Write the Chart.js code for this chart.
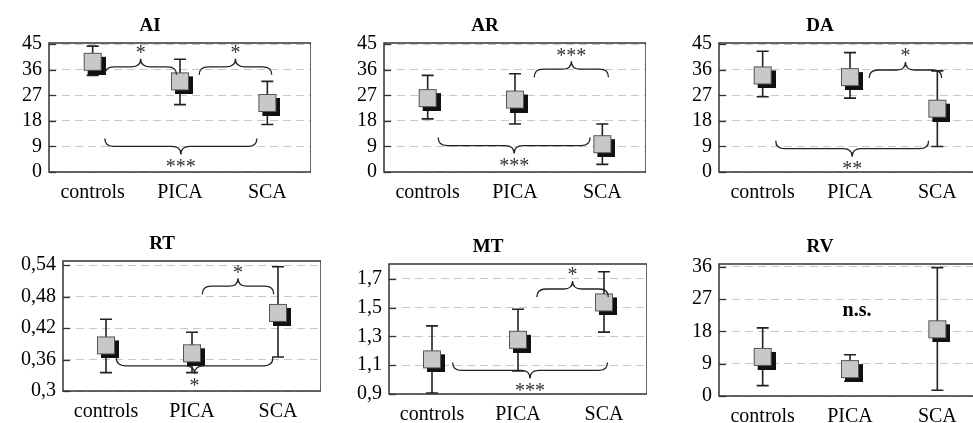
<!DOCTYPE html>
<html>
<head>
<meta charset="utf-8">
<script src="https://cdn.jsdelivr.net/npm/chart.js@4.4.0/dist/chart.umd.min.js"></script>
<style>
  html, body { margin: 0; padding: 0; background: #fff; overflow: hidden; }
  body { width: 973px; height: 423px; position: relative; }
  canvas { position: absolute; }
</style>
</head>
<body>
<script>
const groups = ['controls', 'PICA', 'SCA'];

// group means and whisker ends
const aiMean = [38.8, 31.9, 24.3];
const aiLow = [34.0, 23.7, 16.7];
const aiHigh = [44.3, 39.7, 31.9];

const arMean = [26.0, 25.5, 9.8];
const arLow = [18.7, 16.9, 2.7];
const arHigh = [34.0, 34.6, 16.9];

const daMean = [34.0, 33.4, 22.3];
const daLow = [26.5, 26.0, 9.0];
const daHigh = [42.5, 42.0, 35.6];

const rtMean = [0.387, 0.372, 0.449];
const rtLow = [0.335, 0.335, 0.365];
const rtHigh = [0.437, 0.412, 0.537];

const mtMean = [1.141, 1.277, 1.537];
const mtLow = [0.907, 1.06, 1.33];
const mtHigh = [1.374, 1.489, 1.75];

const rvMean = [10.9, 7.5, 18.6];
const rvLow = [2.9, 4.1, 1.6];
const rvHigh = [19.0, 11.5, 35.8];

// tick labels
const angleTicks = [0, 9, 18, 27, 36, 45];
const rtTicks = [0.3, 0.36, 0.42, 0.48, 0.54];
const mtTicks = [0.9, 1.1, 1.3, 1.5, 1.7];
const rvTicks = [0, 9, 18, 27, 36];

// significance braces: [from group, to group, value, cusp direction, label]
const aiBraces = [[0.14, 0.96, 37, 'up', '*'], [1.22, 2.05, 37, 'up', '*'], [0.14, 1.88, 9, 'down', '***']];
const arBraces = [[1.22, 2.07, 36.2, 'up', '***'], [0.12, 1.86, 9.3, 'down', '***']];
const daBraces = [[1.22, 2.05, 35.9, 'up', '*'], [0.15, 1.90, 8.2, 'down', '**']];
const rtBraces = [[1.12, 1.95, 0.5, 'up', '*'], [0.12, 1.94, 0.348, 'down', '*']];
const mtBraces = [[1.22, 2.05, 1.63, 'up', '*'], [0.24, 2.04, 1.064, 'down', '***']];
const rvNotes = [[1.08, 23.7, 'n.s.']];

const SERIF = "'Liberation Serif', 'Times New Roman', serif";
const AXIS_W = 60, TITLE_H = 26, XAXIS_H = 40;

const panels = [
  { title: 'AI', mean: aiMean, low: aiLow, high: aiHigh, ticks: angleTicks, min: 0, max: 45.4, braces: aiBraces, notes: [], box: [49, 43, 262, 129] },
  { title: 'AR', mean: arMean, low: arLow, high: arHigh, ticks: angleTicks, min: 0, max: 45.4, braces: arBraces, notes: [], box: [384, 43, 262, 129] },
  { title: 'DA', mean: daMean, low: daLow, high: daHigh, ticks: angleTicks, min: 0, max: 45.4, braces: daBraces, notes: [], box: [719, 43, 262, 129] },
  { title: 'RT', mean: rtMean, low: rtLow, high: rtHigh, ticks: rtTicks, min: 0.3, max: 0.548, braces: rtBraces, notes: [], box: [63, 261, 258, 130] },
  { title: 'MT', mean: mtMean, low: mtLow, high: mtHigh, ticks: mtTicks, min: 0.9, max: 1.804, braces: mtBraces, notes: [], box: [389, 264, 258, 130] },
  { title: 'RV', mean: rvMean, low: rvLow, high: rvHigh, ticks: rvTicks, min: 0, max: 36.8, braces: [], notes: rvNotes, box: [719, 264, 262, 132] }
];

// grey square marker with a hard black drop shadow, centred on the grey square
const marker = (() => {
  const side = 18, off = 4;
  const c = document.createElement('canvas');
  c.width = side + 2 * off;
  c.height = side + 2 * off;
  const g = c.getContext('2d');
  g.fillStyle = '#111';
  g.fillRect(2 * off, 2 * off, side, side);
  g.fillStyle = '#c8c8c8';
  g.fillRect(off, off, side, side);
  g.strokeStyle = '#555';
  g.lineWidth = 1;
  g.strokeRect(off + 0.5, off + 0.5, side - 1, side - 1);
  return c;
})();

function drawBrace(ctx, x1, x2, yl, dir, d) {
  // dir -1: cusp points up, ends bend down; +1: the opposite
  const xm = (x1 + x2) / 2;
  const r = Math.min(9, (x2 - x1) / 5);
  const ye = yl - dir * d, yc = yl + dir * d;
  ctx.beginPath();
  ctx.moveTo(x1, ye);
  ctx.quadraticCurveTo(x1, yl, x1 + r, yl);
  ctx.lineTo(xm - r, yl);
  ctx.quadraticCurveTo(xm, yl, xm, yc);
  ctx.quadraticCurveTo(xm, yl, xm + r, yl);
  ctx.lineTo(x2 - r, yl);
  ctx.quadraticCurveTo(x2, yl, x2, ye);
  ctx.stroke();
}

function makeDeco(p) {
  return {
    id: 'deco',
    beforeDatasetsDraw(chart) {
      const { ctx, chartArea: a, scales: { x, y } } = chart;
      ctx.save();
      // short inner tick marks on the left axis
      ctx.strokeStyle = '#333';
      ctx.lineWidth = 1.3;
      y.ticks.forEach(t => {
        const py = Math.round(y.getPixelForValue(t.value)) + 0.5;
        ctx.beginPath();
        ctx.moveTo(a.left, py);
        ctx.lineTo(a.left + 7, py);
        ctx.stroke();
      });
      // whiskers
      ctx.strokeStyle = '#222';
      ctx.lineWidth = 1.6;
      p.low.forEach((lo, i) => {
        const px = x.getPixelForValue(i);
        const y1 = y.getPixelForValue(lo), y2 = y.getPixelForValue(p.high[i]);
        ctx.beginPath();
        ctx.moveTo(px, y1); ctx.lineTo(px, y2);
        ctx.moveTo(px - 6, y1); ctx.lineTo(px + 6, y1);
        ctx.moveTo(px - 6, y2); ctx.lineTo(px + 6, y2);
        ctx.stroke();
      });
      ctx.restore();
    },
    afterDraw(chart) {
      const { ctx, chartArea: a, scales: { x, y } } = chart;
      ctx.save();
      ctx.strokeStyle = '#222';
      ctx.lineWidth = 1.3;
      ctx.fillStyle = '#333';
      ctx.font = '20px ' + SERIF;
      ctx.textAlign = 'center';
      ctx.textBaseline = 'alphabetic';
      const step = x.getPixelForValue(1) - x.getPixelForValue(0);
      p.braces.forEach(([f, t, v, side, label]) => {
        const x1 = x.getPixelForValue(0) + f * step;
        const x2 = x.getPixelForValue(0) + t * step;
        const yl = y.getPixelForValue(v);
        const dir = side === 'up' ? -1 : 1;
        drawBrace(ctx, x1, x2, yl, dir, 8);
        const cy = yl + dir * 17;
        ctx.fillText(label, (x1 + x2) / 2, cy + 9.4);
      });
      ctx.font = 'bold 20px ' + SERIF;
      ctx.fillStyle = '#000';
      ctx.textBaseline = 'middle';
      p.notes.forEach(([g, v, label]) => {
        ctx.fillText(label, x.getPixelForValue(0) + g * step, y.getPixelForValue(v));
      });
      // plot frame
      ctx.strokeStyle = '#333';
      ctx.lineWidth = 1.5;
      ctx.strokeRect(a.left, a.top, a.right - a.left, a.bottom - a.top);
      ctx.restore();
    }
  };
}

const fmt = v => String(+v.toFixed(2)).replace('.', ',');

panels.forEach(p => {
  const [left, top, w, h] = p.box;
  const cv = document.createElement('canvas');
  cv.width = AXIS_W + w;
  cv.height = TITLE_H + h + XAXIS_H;
  cv.style.left = (left - AXIS_W) + 'px';
  cv.style.top = (top - TITLE_H) + 'px';
  document.body.appendChild(cv);

  new Chart(cv, {
    type: 'line',
    data: {
      labels: groups,
      datasets: [{
        data: p.mean,
        showLine: false,
        pointStyle: marker,
        pointRadius: 13,
        pointHoverRadius: 13
      }]
    },
    options: {
      responsive: false,
      animation: false,
      events: [],
      layout: { padding: 0, autoPadding: false },
      plugins: {
        legend: { display: false },
        tooltip: { enabled: false },
        title: {
          display: true,
          text: p.title,
          color: '#000',
          font: { family: SERIF, size: 19, weight: 'bold', lineHeight: 1 },
          padding: { top: 0, bottom: TITLE_H - 19 }
        }
      },
      scales: {
        x: {
          offset: true,
          grid: { display: false },
          border: { display: false },
          ticks: { color: '#000', font: { family: SERIF, size: 20 }, padding: 1, maxRotation: 0, autoSkip: false },
          afterFit(s) { s.height = XAXIS_H; s.paddingLeft = 0; s.paddingRight = 0; }
        },
        y: {
          min: p.min,
          max: p.max,
          grid: { color: '#c8c8c8', lineWidth: 1, drawTicks: false },
          border: { display: false, dash: [8, 5] },
          ticks: { color: '#000', font: { family: SERIF, size: 20 }, padding: 7, autoSkip: false, callback: fmt },
          afterBuildTicks(s) { s.ticks = p.ticks.map(v => ({ value: v })); },
          afterFit(s) { s.width = AXIS_W; s.paddingTop = 0; s.paddingBottom = 0; }
        }
      }
    },
    plugins: [makeDeco(p)]
  });
});
</script>
</body>
</html>
